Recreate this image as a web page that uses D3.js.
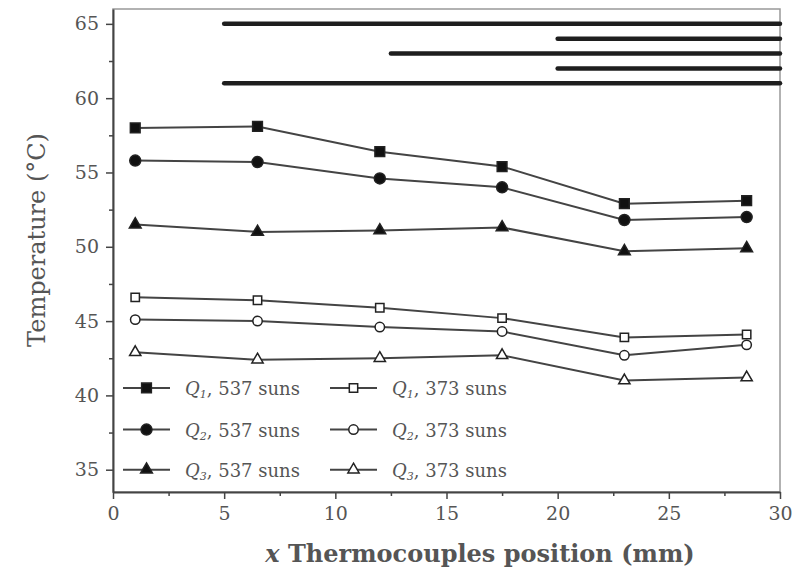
<!DOCTYPE html>
<html lang="en">
<head>
  <meta charset="UTF-8">
  <title>Thermocouple temperatures</title>
  <style>
    body { margin: 0; background: #fff; }
    svg { display: block; font-family: "DejaVu Serif", "Liberation Serif", serif; }
    .tick text { fill: #555; font-size: 19px; font-family: "DejaVu Serif", serif; }
    .axis-title { fill: #555; }
    .legend text { fill: #555; font-size: 18px; }
  </style>
  <script src="https://d3js.org/d3.v7.min.js"></script>
</head>
<body>
  <svg id="chart"></svg>
  <script>
    // thermocouple positions (mm)
    const xPos = [1, 6.5, 12, 17.5, 23, 28.5];

    // temperatures (°C)
    const q1High = [58.0, 58.1, 56.4, 55.4, 52.9, 53.1];
    const q2High = [55.8, 55.7, 54.6, 54.0, 51.8, 52.0];
    const q3High = [51.5, 51.0, 51.1, 51.3, 49.7, 49.9];
    const q1Low = [46.6, 46.4, 45.9, 45.2, 43.9, 44.1];
    const q2Low = [45.1, 45.0, 44.6, 44.3, 42.7, 43.4];
    const q3Low = [42.9, 42.4, 42.5, 42.7, 41.0, 41.2];

    const seriesLabels = ["1", "2", "3", "1", "2", "3"];
    const seriesSuns = ["537", "537", "537", "373", "373", "373"];

    // heating zone bars at the top
    const barLevels = [65, 64, 63, 62, 61];
    const barStarts = [5, 20, 12.5, 20, 5];
    const barEnd = 30;

    const xTicks = [0, 5, 10, 15, 20, 25, 30];
    const yTicks = [35, 40, 45, 50, 55, 60, 65];

    const W = 800, H = 575;
    const margin = { top: 9, right: 20, bottom: 83, left: 113 };
    const width = W - margin.left - margin.right;
    const height = H - margin.top - margin.bottom;

    const svg = d3.select("#chart").attr("width", W).attr("height", H);
    const g = svg.append("g").attr("transform", `translate(${margin.left},${margin.top})`);

    const x = d3.scaleLinear().domain([0, 30]).range([0, width]);
    const y = d3.scaleLinear().domain([33.5, 66]).range([height, 0]);

    // frame (top/right)
    g.append("rect")
      .attr("width", width).attr("height", height)
      .attr("fill", "none").attr("stroke", "#999").attr("stroke-width", 1.5);

    // minor ticks
    const xMinor = d3.axisBottom(x).tickValues(d3.range(2.5, 30, 5)).tickSize(4).tickFormat("");
    const yMinor = d3.axisLeft(y).tickValues(d3.range(37.5, 66, 5)).tickSize(4).tickFormat("");
    g.append("g").attr("transform", `translate(0,${height})`).call(xMinor)
      .call(a => a.select(".domain").remove())
      .selectAll("line").attr("stroke", "#444").attr("stroke-width", 1.5);
    g.append("g").call(yMinor)
      .call(a => a.select(".domain").remove())
      .selectAll("line").attr("stroke", "#444").attr("stroke-width", 1.5);

    const xAxis = g.append("g").attr("transform", `translate(0,${height})`)
      .call(d3.axisBottom(x).tickValues(xTicks).tickSize(7).tickPadding(8).tickSizeOuter(0));
    const yAxis = g.append("g")
      .call(d3.axisLeft(y).tickValues(yTicks).tickSize(7).tickPadding(7).tickSizeOuter(0));
    [xAxis, yAxis].forEach(a => {
      a.select(".domain").attr("stroke", "#444").attr("stroke-width", 2);
      a.selectAll(".tick line").attr("stroke", "#444").attr("stroke-width", 1.5);
    });

    // axis titles
    const xt = svg.append("text").attr("class", "axis-title")
      .attr("x", 480).attr("y", 562)
      .attr("text-anchor", "middle").attr("font-weight", "bold").attr("font-size", "24px");
    xt.append("tspan").attr("font-style", "italic").text("x");
    xt.append("tspan").text(" Thermocouples position (mm)");

    svg.append("text").attr("class", "axis-title")
      .attr("transform", `translate(45,${240}) rotate(-90)`)
      .attr("text-anchor", "middle").attr("font-size", "24px")
      .text("Temperature (°C)");

    // top bars
    g.selectAll(".zone").data(barLevels).join("line")
      .attr("class", "zone")
      .attr("x1", (d, i) => x(barStarts[i])).attr("x2", x(barEnd))
      .attr("y1", d => y(d)).attr("y2", d => y(d))
      .attr("stroke", "#1e1e1e").attr("stroke-width", 4.5).attr("stroke-linecap", "round");

    const allSeries = [q1High, q2High, q3High, q1Low, q2Low, q3Low];
    const symbols = [d3.symbolSquare, d3.symbolCircle, d3.symbolTriangle,
                     d3.symbolSquare, d3.symbolCircle, d3.symbolTriangle];
    const filled = [true, true, true, false, false, false];
    const sizes = [95, 95, 60, 70, 70, 55];

    const line = d3.line().x((d, i) => x(xPos[i])).y(d => y(d));

    allSeries.forEach((vals, s) => {
      g.append("path").datum(vals)
        .attr("d", line)
        .attr("fill", "none").attr("stroke", "#444").attr("stroke-width", 2);
      g.selectAll(".pt" + s).data(vals).join("path")
        .attr("class", "pt" + s)
        .attr("transform", (d, i) => `translate(${x(xPos[i])},${y(d)})`)
        .attr("d", d3.symbol().type(symbols[s]).size(sizes[s]))
        .attr("fill", filled[s] ? "#111" : "#fff")
        .attr("stroke", "#222").attr("stroke-width", 1.5);
    });

    // legend
    const legend = g.append("g").attr("class", "legend");
    const colX = [10, 217];
    const rowY = [40.5, 37.7, 35.0];
    allSeries.forEach((vals, s) => {
      const col = s < 3 ? 0 : 1;
      const row = s % 3;
      const item = legend.append("g").attr("transform", `translate(${colX[col]},${y(rowY[row])})`);
      item.append("line").attr("x1", 0).attr("x2", 47).attr("y1", 0).attr("y2", 0)
        .attr("stroke", "#444").attr("stroke-width", 2);
      item.append("path")
        .attr("transform", "translate(23.5,0)")
        .attr("d", d3.symbol().type(symbols[s]).size(sizes[s]))
        .attr("fill", filled[s] ? "#111" : "#fff")
        .attr("stroke", "#222").attr("stroke-width", 1.5);
      const t = item.append("text").attr("x", 62).attr("y", 7);
      t.append("tspan").attr("font-style", "italic").text("Q");
      t.append("tspan").attr("font-style", "italic").attr("font-size", "11px")
        .attr("baseline-shift", "-30%").text(seriesLabels[s]);
      t.append("tspan").text(`, ${seriesSuns[s]} suns`);
    });
  </script>
</body>
</html>
